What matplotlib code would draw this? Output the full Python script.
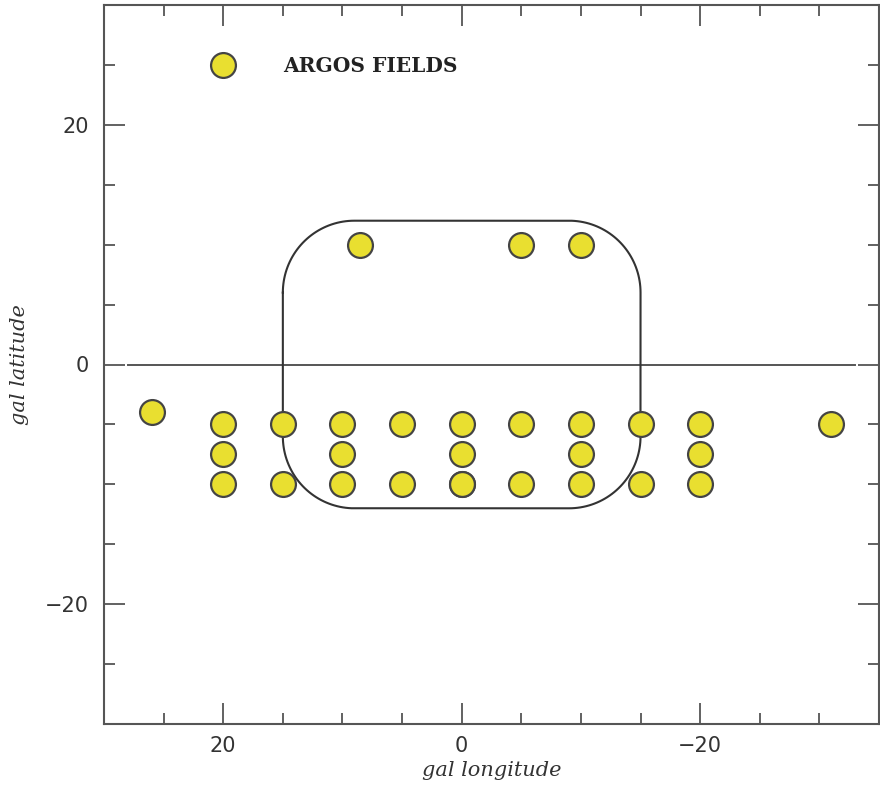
import numpy as np
import matplotlib
matplotlib.use("Agg")
import matplotlib.pyplot as plt
from matplotlib.ticker import MultipleLocator

# Field positions (galactic longitude, latitude)
field_l = [26, 20, 20, 20, 15, 15, 10, 10, 10, 5, 5, 0, 0, 0, 0,
           -5, -5, -10, -10, -10, -15, -15, -20, -20, -20, -31,
           8.5, -5, -10]
field_b = [-4, -5, -7.5, -10, -5, -10, -5, -7.5, -10, -5, -10, -5, -7.5, -10, -10,
           -5, -10, -5, -7.5, -10, -5, -10, -5, -7.5, -10, -5,
           10, 10, 10]

legend_pos = (20, 25)
legend_text = "ARGOS FIELDS"

# Rounded box (bulge region)
box_l = (-15, 15)
box_b = (-12, 12)
box_r = 6

# Galactic plane line
plane_l = [28, -33]
plane_b = [0, 0]

fill = "#E9DF30"
edge = "#444444"
axcol = "#555555"

fig = plt.figure(figsize=(8.8, 7.91), dpi=100)
ax = fig.add_axes([104/880, 67/791, 775/880, 719/791])
ax.set_xlim(30, -35)
ax.set_ylim(-30, 30)

ax.plot(plane_l, plane_b, color=axcol, lw=1.4, zorder=1)

# rounded rectangle path
x0, x1 = box_l
y0, y1 = box_b
r = box_r
def arc(cx, cy, a0, a1):
    t = np.linspace(np.radians(a0), np.radians(a1), 40)
    return cx + r*np.cos(t), cy + r*np.sin(t)
xs, ys = [], []
for cx, cy, a0, a1 in [(x1-r, y1-r, 0, 90), (x0+r, y1-r, 90, 180),
                       (x0+r, y0+r, 180, 270), (x1-r, y0+r, 270, 360)]:
    ax_, ay_ = arc(cx, cy, a0, a1)
    xs.extend(ax_); ys.extend(ay_)
xs.append(xs[0]); ys.append(ys[0])
ax.plot(xs, ys, color="#333333", lw=1.5, zorder=2)

ax.scatter(field_l, field_b, s=320, facecolor=fill, edgecolor=edge, linewidths=1.6, zorder=3)
ax.scatter([legend_pos[0]], [legend_pos[1]], s=320, facecolor=fill, edgecolor=edge, linewidths=1.6, zorder=3)
ax.text(15, 24.95, legend_text, family="DejaVu Serif", fontweight="bold", fontsize=14.5,
        va="center", ha="left", color="#222222")

ax.xaxis.set_major_locator(MultipleLocator(20))
ax.xaxis.set_minor_locator(MultipleLocator(5))
ax.yaxis.set_major_locator(MultipleLocator(20))
ax.yaxis.set_minor_locator(MultipleLocator(5))
ax.tick_params(which="both", direction="in", top=True, right=True, color=axcol, width=1.3)
ax.tick_params(which="major", length=15, labelsize=15, labelcolor="#333333", pad=9)
ax.tick_params(which="minor", length=8)
ax.tick_params(axis="y", which="major", pad=11)
for s in ax.spines.values():
    s.set_color(axcol)
    s.set_linewidth(1.5)

ax.set_xlabel("gal longitude", family="DejaVu Serif", style="italic", fontsize=15, color="#333333", labelpad=3)
ax.set_ylabel("gal latitude", family="DejaVu Serif", style="italic", fontsize=15, color="#333333", labelpad=11)

fig.savefig("out.png", dpi=100)
